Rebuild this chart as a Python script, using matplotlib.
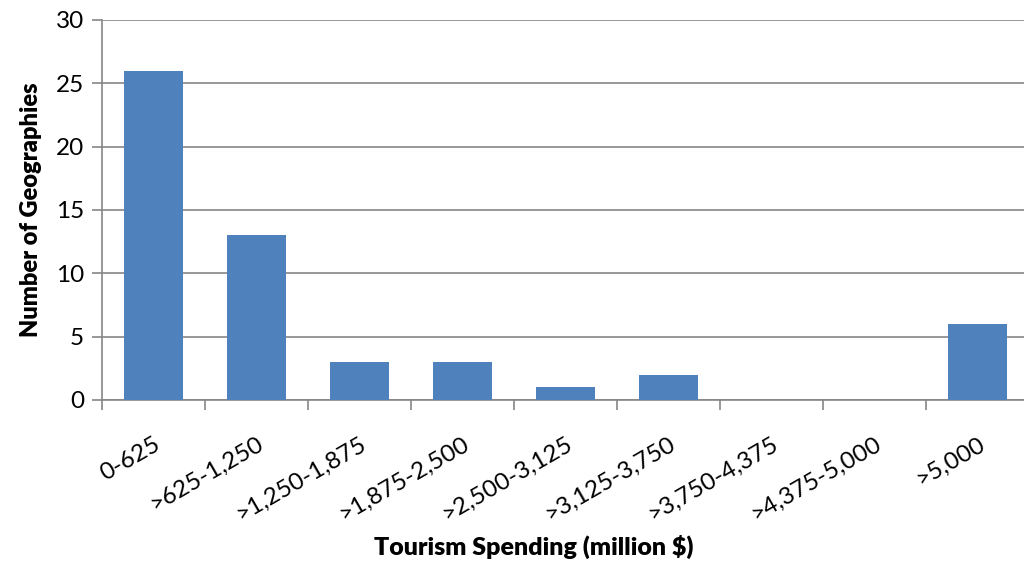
import matplotlib
matplotlib.use("Agg")
import matplotlib.pyplot as plt
import numpy as np

categories = ["0-625", ">625-1,250", ">1,250-1,875", ">1,875-2,500", ">2,500-3,125",
              ">3,125-3,750", ">3,750-4,375", ">4,375-5,000", ">5,000"]
counts = [26, 13, 3, 3, 1, 2, 0, 0, 6]

plt.rcParams['font.family'] = ['Lato', 'DejaVu Sans']

W, H = 1024, 561
fig = plt.figure(figsize=(W / 100, H / 100), dpi=100)
ax = fig.add_axes([102 / W, 1 - 400 / H, 927 / W, 380 / H])

x = np.arange(len(categories))
ax.bar(x, counts, width=0.57, color="#4F81BD", zorder=3)

ax.set_xlim(-0.5, len(categories) - 0.5)
ax.set_ylim(0, 30)
ax.set_yticks(range(0, 31, 5))
ax.yaxis.grid(True, color="#868686", linewidth=1.2, zorder=0)

grey = "#868686"
for side in ["top", "right"]:
    ax.spines[side].set_visible(False)
for side in ["left", "bottom"]:
    ax.spines[side].set_color(grey)
    ax.spines[side].set_linewidth(1.2)

# Category boundaries carry the tick marks; labels sit at category centres
ax.set_xticks(np.arange(len(categories) + 1) - 0.5)
ax.set_xticklabels([])
ax.tick_params(axis="x", which="major", length=7, width=1.2, color=grey, direction="out")
ax.set_xticks(x, minor=True)
ax.set_xticklabels(categories, minor=True, rotation=30, ha="right", va="top",
                   rotation_mode="anchor", fontsize=17.5)
ax.tick_params(axis="x", which="minor", length=0, pad=24)
ax.tick_params(axis="y", length=7, width=1.2, color=grey, labelsize=17.5, pad=6)

ax.set_ylabel("Number of Geographies", fontsize=17, fontweight="heavy", labelpad=10)
fig.text(534 / W, 1 - 547 / H, "Tourism Spending (million $)", fontsize=18,
         fontweight="heavy", ha="center", va="center")

fig.savefig("out.png", dpi=100)
